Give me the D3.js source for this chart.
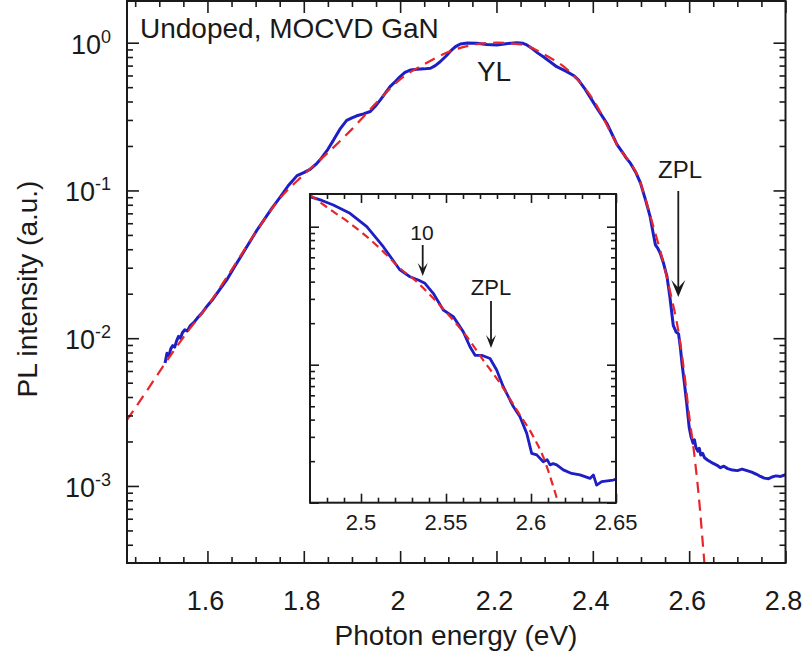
<!DOCTYPE html>
<html><head><meta charset="utf-8">
<script src="https://cdn.jsdelivr.net/npm/d3@7/dist/d3.min.js"></script>
<style>
body{margin:0;background:#fff}
text{font-family:"Liberation Sans",Arial,Helvetica,sans-serif;fill:#1a1a1a}
</style>
</head><body><svg id="c" width="806" height="655"></svg>
<script>
// ---------- data (main panel) ----------
const mainEnergy = [1.512,1.516,1.520,1.524,1.528,1.532,1.536,1.540,1.544,1.548,1.553,1.558,1.564,1.572,1.580,1.590,1.600,1.612,1.625,1.640,1.655,1.670,1.689,1.703,1.717,1.734,1.751,1.768,1.786,1.800,1.813,1.825,1.837,1.850,1.862,1.875,1.889,1.900,1.910,1.924,1.938,1.948,1.959,1.970,1.979,1.990,2.000,2.010,2.021,2.035,2.050,2.063,2.073,2.083,2.095,2.105,2.115,2.125,2.140,2.159,2.180,2.201,2.220,2.242,2.255,2.263,2.275,2.286,2.298,2.312,2.325,2.345,2.360,2.370,2.382,2.394,2.410,2.429,2.440,2.450,2.462,2.470,2.478,2.489,2.499,2.510,2.519,2.525,2.530,2.535,2.540,2.547,2.554,2.560,2.567,2.573,2.578,2.582,2.585,2.590,2.595,2.600,2.604,2.608,2.611,2.614,2.618,2.621,2.624,2.628,2.632,2.638,2.644,2.650,2.658,2.665,2.672,2.680,2.690,2.700,2.710,2.720,2.730,2.740,2.748,2.756,2.765,2.772,2.780,2.790,2.800];
const mainPL = [0.0068,0.0079,0.0076,0.0085,0.0089,0.0087,0.0096,0.0103,0.0100,0.0109,0.0114,0.0112,0.0121,0.0128,0.0138,0.0150,0.0166,0.0185,0.0212,0.0248,0.0300,0.0360,0.0455,0.0540,0.0630,0.0760,0.0900,0.1080,0.1260,0.1320,0.1390,0.1500,0.1660,0.1900,0.2200,0.2600,0.2980,0.3100,0.3200,0.3300,0.3420,0.3700,0.4100,0.4600,0.5040,0.5450,0.5900,0.6300,0.6530,0.6600,0.6650,0.6720,0.7000,0.7430,0.8100,0.8800,0.9400,0.9800,0.9950,0.9900,0.9720,0.9650,0.9850,1.0000,0.9900,0.9650,0.9100,0.8500,0.8000,0.7400,0.6880,0.6400,0.6000,0.5600,0.4950,0.4300,0.3550,0.2850,0.2400,0.2050,0.1800,0.1650,0.1530,0.1330,0.1120,0.0850,0.0665,0.0520,0.0428,0.0405,0.0376,0.0320,0.0261,0.0190,0.0122,0.0110,0.0107,0.0085,0.0068,0.0050,0.0036,0.0025,0.00215,0.00195,0.00205,0.00182,0.00172,0.00180,0.00162,0.00166,0.00155,0.00150,0.00146,0.00142,0.00138,0.00133,0.00136,0.00131,0.00128,0.00127,0.00130,0.00127,0.00124,0.00120,0.00116,0.00113,0.00112,0.00115,0.00117,0.00116,0.00119];
const fitEnergy = [1.433,1.470,1.510,1.560,1.600,1.650,1.700,1.750,1.800,1.850,1.900,1.950,2.000,2.050,2.100,2.150,2.200,2.250,2.300,2.350,2.400,2.450,2.500,2.520,2.540,2.560,2.580,2.590,2.600,2.610,2.620,2.630,2.640];
const fitPL = [0.0028,0.0042,0.0066,0.0112,0.0165,0.0290,0.0520,0.0880,0.1280,0.1800,0.2600,0.3900,0.5650,0.7150,0.8650,0.9650,1.0000,0.9750,0.8300,0.6450,0.4150,0.2050,0.1100,0.0660,0.0390,0.0210,0.0100,0.0058,0.0030,0.0017,0.00085,0.00035,0.00014];
// ---------- data (inset) ----------
const insetEnergy = [2.4700,2.4770,2.4837,2.4935,2.5034,2.5131,2.5229,2.5288,2.5337,2.5376,2.5425,2.5484,2.5543,2.5602,2.5641,2.5671,2.5710,2.5759,2.5798,2.5837,2.5896,2.5935,2.5975,2.6004,2.6034,2.6072,2.6095,2.6112,2.6130,2.6151,2.6190,2.6239,2.6288,2.6347,2.6367,2.6386,2.6416,2.6484,2.6500];
const insetPL = [0.165,0.155,0.1435,0.125,0.100,0.0716,0.0486,0.0434,0.0411,0.0389,0.0329,0.0249,0.0223,0.0173,0.0135,0.0117,0.0117,0.0111,0.00916,0.00693,0.00497,0.00420,0.00318,0.00228,0.00222,0.00198,0.00205,0.00188,0.00192,0.00188,0.00173,0.00163,0.00159,0.00150,0.00159,0.00134,0.00142,0.00146,0.00148];
const insetFitEnergy = [2.4700,2.4837,2.4935,2.5034,2.5131,2.5229,2.5328,2.5425,2.5524,2.5622,2.5719,2.5818,2.5916,2.6014,2.6072,2.6131,2.6161,2.6190];
const insetFitPL = [0.170,0.1285,0.106,0.0847,0.0660,0.0500,0.0399,0.0303,0.0223,0.0160,0.0108,0.00733,0.00470,0.00301,0.00215,0.00131,0.00099,0.00075];
// ---------- ticks / labels ----------
const mainXMajor = [1.6,1.8,2.0,2.2,2.4,2.6,2.8];
const mainXLabels = ["1.6","1.8","2","2.2","2.4","2.6","2.8"];
const mainYMajor = [1e-3,1e-2,1e-1,1];
const mainYExponents = ["-3","-2","-1","0"];
const insetXMajor = [2.5,2.55,2.6,2.65];
const insetXLabels = ["2.5","2.55","2.6","2.65"];
const insetYMajor = [1e-3,1e-2,1e-1];

const blue = "#1e1ec4", red = "#e8262a";
const svg = d3.select("#c");

function logMinors(lo, hi){
  const out=[];
  for(let e=-5;e<=1;e++) for(let m=2;m<=9;m++){const v=m*Math.pow(10,e); if(v>=lo&&v<=hi) out.push(v);}
  return out;
}
function rangeStep(a,b,s){const out=[];for(let v=a;v<=b+1e-9;v+=s) out.push(+v.toFixed(4));return out;}

function drawFrame(g, x, y, xMaj, xMin, yMaj, yMin, L, l){
  const [x0,x1]=x.range(), [y0,y1]=y.range();
  const put=(axis,tx,ty)=>{const a=g.append("g").attr("transform",`translate(${tx},${ty})`).call(axis);a.select(".domain").remove();a.selectAll("line").attr("stroke","#1a1a1a").attr("stroke-width",1.6);};
  put(d3.axisBottom(x).tickValues(xMaj).tickSize(-L).tickFormat(""),0,y0);
  put(d3.axisBottom(x).tickValues(xMin).tickSize(-l).tickFormat(""),0,y0);
  put(d3.axisTop(x).tickValues(xMaj).tickSize(-L).tickFormat(""),0,y1);
  put(d3.axisTop(x).tickValues(xMin).tickSize(-l).tickFormat(""),0,y1);
  put(d3.axisLeft(y).tickValues(yMaj).tickSize(-L).tickFormat(""),x0,0);
  put(d3.axisLeft(y).tickValues(yMin).tickSize(-l).tickFormat(""),x0,0);
  put(d3.axisRight(y).tickValues(yMaj).tickSize(-L).tickFormat(""),x1,0);
  put(d3.axisRight(y).tickValues(yMin).tickSize(-l).tickFormat(""),x1,0);
  g.append("rect").attr("x",x0).attr("y",y1).attr("width",x1-x0).attr("height",y0-y1)
    .attr("fill","none").attr("stroke","#1a1a1a").attr("stroke-width",2);
}
function arrow(g, xpx, yTop, yTip, w, L){
  g.append("line").attr("x1",xpx).attr("x2",xpx).attr("y1",yTop).attr("y2",yTip-4)
    .attr("stroke","#1a1a1a").attr("stroke-width",1.8);
  g.append("path").attr("d",`M${xpx},${yTip} L${xpx-w/2},${yTip-L} L${xpx},${yTip-L*0.55} L${xpx+w/2},${yTip-L} Z`)
    .attr("fill","#1a1a1a");
}

// ---------- main scales ----------
const x = d3.scaleLinear().domain([1.433,2.8]).range([127,785.5]);
const y = d3.scaleLog().domain([3.01e-4,1.915]).range([563,1]);

const defs = svg.append("defs");
defs.append("clipPath").attr("id","clipMain").append("rect").attr("x",127).attr("y",1).attr("width",658.5).attr("height",562);

const mainBlue = mainEnergy.map((e,i)=>[e,mainPL[i]]);
const mainFit = fitEnergy.map((e,i)=>[e,fitPL[i]]);
const lineMain = d3.line().x(d=>x(d[0])).y(d=>y(d[1]));
const lineMainFit = d3.line().x(d=>x(d[0])).y(d=>y(d[1])).curve(d3.curveMonotoneX);

const gm = svg.append("g");
gm.append("g").attr("clip-path","url(#clipMain)").append("path").datum(mainBlue)
  .attr("d",lineMain).attr("fill","none").attr("stroke",blue).attr("stroke-width",3).attr("stroke-linejoin","round");
gm.append("g").attr("clip-path","url(#clipMain)").append("path").datum(mainFit)
  .attr("d",lineMainFit).attr("fill","none").attr("stroke",red).attr("stroke-width",2.2).attr("stroke-dasharray","11,7");

drawFrame(gm, x, y, mainXMajor, rangeStep(1.45,2.8,0.05).filter(v=>!mainXMajor.some(m=>Math.abs(m-v)<1e-6)),
  mainYMajor, logMinors(3.01e-4,1.915), 12, 6);

// main tick labels
gm.selectAll(".xl").data(mainXMajor).join("text").attr("class","xl")
  .attr("x",d=>x(d)-2).attr("y",610).attr("text-anchor","middle").attr("font-size",27)
  .text((d,i)=>mainXLabels[i]);
const yl = gm.selectAll(".yl").data(mainYMajor).join("text").attr("class","yl")
  .attr("x",111).attr("y",d=>y(d)+11).attr("text-anchor","end").attr("font-size",27);
yl.append("tspan").text("10");
yl.append("tspan").attr("font-size",18).attr("dy",-11).text((d,i)=>mainYExponents[i]);

// axis titles
svg.append("text").attr("x",456).attr("y",645).attr("text-anchor","middle").attr("font-size",28).text("Photon energy (eV)");
svg.append("text").attr("transform","translate(37,289) rotate(-90)").attr("text-anchor","middle").attr("font-size",28).text("PL intensity (a.u.)");

// annotations
svg.append("text").attr("x",140).attr("y",38).attr("font-size",28).text("Undoped, MOCVD GaN");
svg.append("text").attr("x",494).attr("y",81).attr("text-anchor","middle").attr("font-size",28).text("YL");
svg.append("text").attr("x",680).attr("y",178).attr("text-anchor","middle").attr("font-size",24).text("ZPL");
arrow(svg, 678.3, 191, 297, 14, 17);

// ---------- inset ----------
const xi = d3.scaleLinear().domain([2.47,2.65]).range([310,616]);
const yi = d3.scaleLog().domain([1e-3,0.1726]).range([502.7,194]);
const gi = svg.append("g");
gi.append("rect").attr("x",310).attr("y",194).attr("width",306).attr("height",308.7).attr("fill","#fff");
defs.append("clipPath").attr("id","clipInset").append("rect").attr("x",310).attr("y",194).attr("width",306).attr("height",308.7);
const insetBlue = insetEnergy.map((e,i)=>[e,insetPL[i]]);
const insetFit = insetFitEnergy.map((e,i)=>[e,insetFitPL[i]]);
const lineI = d3.line().x(d=>xi(d[0])).y(d=>yi(d[1]));
const lineIFit = d3.line().x(d=>xi(d[0])).y(d=>yi(d[1])).curve(d3.curveMonotoneX);
gi.append("g").attr("clip-path","url(#clipInset)").append("path").datum(insetBlue)
  .attr("d",lineI).attr("fill","none").attr("stroke",blue).attr("stroke-width",2.8).attr("stroke-linejoin","round");
gi.append("g").attr("clip-path","url(#clipInset)").append("path").datum(insetFit)
  .attr("d",lineIFit).attr("fill","none").attr("stroke",red).attr("stroke-width",2.2).attr("stroke-dasharray","8,5");
drawFrame(gi, xi, yi, insetXMajor, rangeStep(2.48,2.65,0.01).filter(v=>!insetXMajor.some(m=>Math.abs(m-v)<1e-6)),
  insetYMajor, logMinors(1e-3,0.1726), 9, 5);
gi.selectAll(".xil").data(insetXMajor).join("text").attr("class","xil")
  .attr("x",d=>xi(d)).attr("y",530).attr("text-anchor","middle").attr("font-size",22)
  .text((d,i)=>insetXLabels[i]);
gi.append("text").attr("x",422).attr("y",240).attr("text-anchor","middle").attr("font-size",21).text("10");
arrow(gi, 422.7, 245, 276, 10, 13);
gi.append("text").attr("x",491).attr("y",295).attr("text-anchor","middle").attr("font-size",22).text("ZPL");
arrow(gi, 491, 301, 348, 10, 13);
</script>
</body></html>
